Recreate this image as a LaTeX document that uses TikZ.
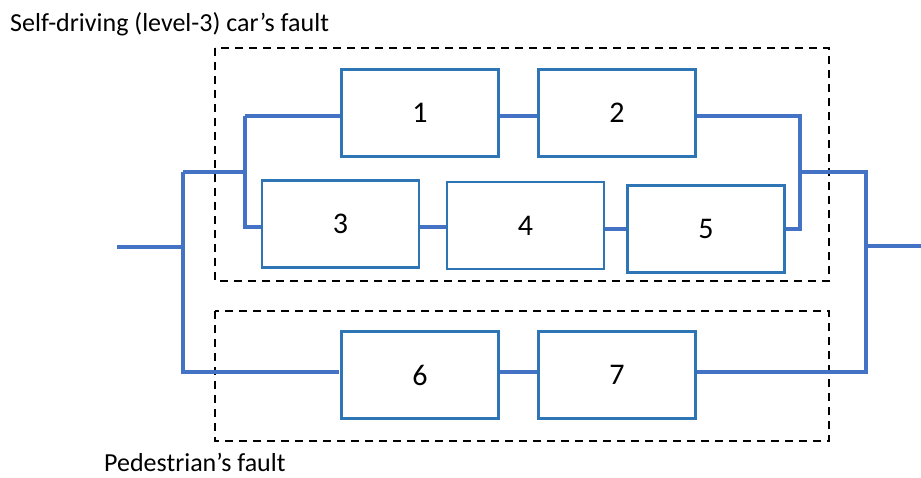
\documentclass[tikz,border=0pt]{standalone}
\usepackage{fontspec}
\setmainfont{Carlito}
\definecolor{boxblue}{HTML}{2E75B6}
\definecolor{wireblue}{HTML}{4472C4}
\begin{document}
\begin{tikzpicture}[x=1pt,y=-1pt,
  blk/.style={draw=boxblue,line width=2.8pt,minimum width=157pt,minimum height=87pt,inner sep=0pt,font=\fontsize{30}{30}\selectfont,fill=white},
  wire/.style={draw=wireblue,line width=3.2pt},
  group/.style={draw=black,line width=2.6pt,dash pattern=on 8pt off 6pt},
  lbl/.style={font=\fontsize{26}{30}\selectfont,anchor=base west,inner sep=0pt}]
\useasboundingbox (0,0) rectangle (921,477);
% groups
\draw[group] (215,48) rectangle (829,281);
\draw[group] (215,311) rectangle (829,441);
\node[lbl] (t1) at (10,31) {Self-driving (level-3) car’s fault};
\node[lbl] (t2) at (104,471) {Pedestrian’s fault};
% coordinates
\coordinate (in) at (117,247);
\coordinate (la) at (183,247);
\coordinate (lt) at (183,172);
\coordinate (lb) at (183,372);
\coordinate (ut) at (245,172);
\coordinate (u1) at (245,116);
\coordinate (u3) at (245,227);
\coordinate (r2) at (800,116);
\coordinate (r5) at (800,229);
\coordinate (rm) at (800,172);
\coordinate (rt) at (866,172);
\coordinate (rb) at (866,372);
\coordinate (ra) at (866,246);
\coordinate (out) at (921,246);
% wires (drawn first)
\draw[wire] (in) -- (la);
\draw[wire] (lt) -- (lb) -- (339,372);
\draw[wire] (lt) -- (ut);
\draw[wire] (u1) -- (u3) -- (262,227);
\draw[wire] (u1) -- (341,116);
\draw[wire] (499,116) -- (538,116);
\draw[wire] (419,227) -- (447,227);
\draw[wire] (604,229) -- (627,229);
\draw[wire] (696,116) -- (r2) -- (r5) -- (785,229);
\draw[wire] (rm) -- (rt) -- (rb) -- (696,372);
\draw[wire] (ra) -- (out);
\draw[wire] (499,372) -- (538,372);
% boxes
\node[blk] (b1) at (420,113) {1};
\node[blk] (b2) at (617,113) {2};
\node[blk] (b3) at (340.5,224) {3};
\node[blk] (b4) at (525.5,225.5) {4};
\node[blk] (b5) at (706,229) {5};
\node[blk] (b6) at (420,375) {6};
\node[blk] (b7) at (617,375) {7};
\end{tikzpicture}
\end{document}
